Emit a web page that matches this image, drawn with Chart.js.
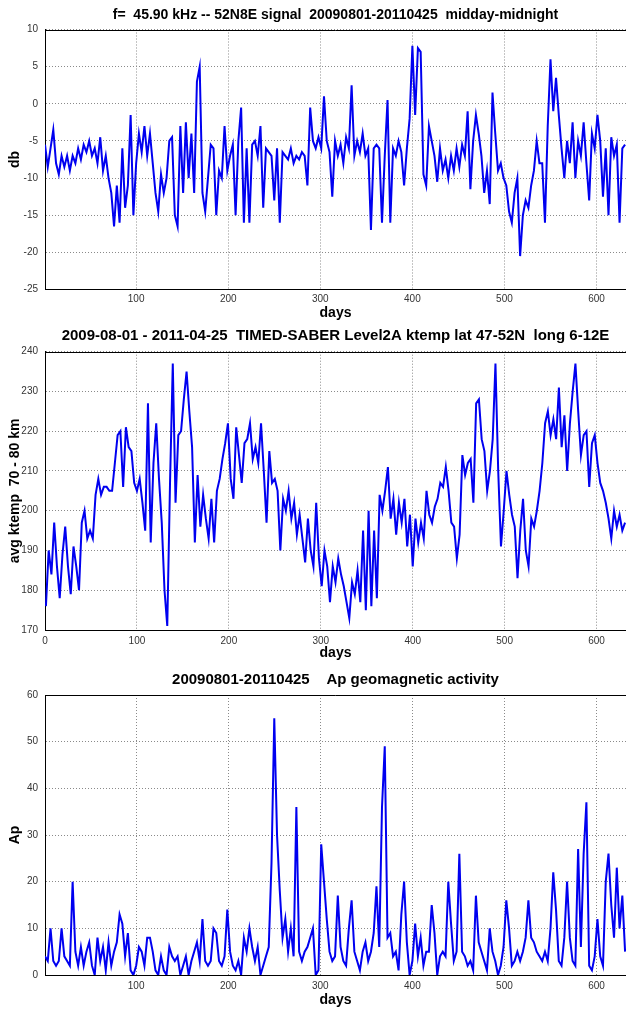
<!DOCTYPE html>
<html><head><meta charset="utf-8">
<script src="https://cdn.jsdelivr.net/npm/chart.js@4"></script>
<style>
html,body{margin:0;padding:0;background:#fff;}
body{width:626px;height:1010px;position:relative;overflow:hidden;}
canvas{position:absolute;left:0;}
</style></head><body>
<canvas id="c1" width="626" height="322" style="top:0px"></canvas>
<canvas id="c2" width="626" height="340" style="top:322px"></canvas>
<canvas id="c3" width="626" height="348" style="top:662px"></canvas>
<script>
// sample days (every 3rd day of the 2009-08-01 .. 2011-04-25 record)
const sampleDays = [];
for (let d = 1; d <= 631; d += 3) sampleDays.push(d);

// panel 1: 45.90 kHz signal, db
const dbValues = [
 -5.5,-8.5,-6,-3.5,-8,-9.5,-7,-8.5,-7,-9,
 -7,-8,-6,-7.5,-5.5,-6.5,-5,-7,-6,-8,
 -4.5,-9,-7,-10,-12,-16.5,-11,-16,-6,-14,
 -11,-1.5,-15,-8,-4,-6.5,-3,-7,-4,-8,
 -12,-14.5,-9.5,-12,-10,-5,-4.5,-15,-16.5,-3,
 -12,-2.5,-10,-4,-12,3,5,-12,-14.5,-10,
 -5.5,-6,-15,-9,-10,-3,-9,-7,-5.5,-15,
 -5,-0.5,-16,-6,-16,-5.5,-5,-7,-3,-14,
 -6,-6.5,-7,-13,-6,-16,-6.5,-7,-7.5,-6,
 -8,-7,-7.5,-6.5,-7,-11,-0.5,-5,-6,-4.5,
 -6,1,-5,-6.5,-12.5,-5,-7,-5.5,-8,-4.5,
 -6,2.5,-7,-5,-6.5,-4,-7,-6,-17,-6,
 -5.5,-6,-16,-7,0.5,-16,-6,-7,-5,-6.5,
 -11,-6,-2,7.8,-1.5,7.5,7,-9.5,-11,-3,
 -5,-7,-10.5,-6,-9,-7.5,-10,-7,-9,-6,
 -8.5,-5.5,-7,-1,-11.5,-5,-1.5,-4,-7,-12,
 -9,-13.5,1.5,-4,-9,-8,-10,-11,-14.5,-16,
 -12,-10,-20.5,-15,-13,-14,-11,-9,-5,-8,
 -8,-16,-3,6,-1,3.5,-1.5,-6,-10,-5,
 -8,-2.5,-10,-5,-7,-2.5,-8,-13,-4,-6,
 -1.5,-5,-12.5,-6,-15,-4.5,-7,-5.5,-16,-6,-5.5
];

// panel 2: TIMED-SABER avg ktemp 70-80 km
const ktempValues = [
 176,190,184,197,186,178,189,196,186,179,
 191,186,180,197,200,193,195,193,204,208,
 204,206,206,205,205,212,219,220,206,221,
 216,215,207,205,208,202,195,227,192,212,
 222,208,197,180,171,207,237,202,219,220,
 228,235,225,216,192,209,196,204,198,193,
 203,192,205,208,213,217,222,208,203,221,
 214,207,217,218,222,213,216,212,222,210,
 197,215,207,208,205,190,203,200,205,198,
 202,194,199,193,187,198,190,186,202,188,
 181,190,186,177,186,182,188,184,181,177,
 173,182,179,185,177,195,175,200,176,195,
 178,204,200,205,211,198,203,194,202,197,
 203,191,199,186,198,192,197,193,205,199,
 197,201,203,207,206,211,205,197,196,188,
 194,214,209,212,213,202,227,228,218,215,
 205,210,218,237,210,191,200,210,204,199,
 196,183,195,203,190,186,198,196,200,205,
 212,222,225,219,223,218,231,216,224,210,
 222,230,237,225,214,219,220,206,217,219,
 212,207,205,202,198,193,200,196,199,195,197
];

// panel 3: Ap geomagnetic activity
const apValues = [
 4,3,10,3,2,3,10,4,3,2,
 20,5,2,6,2,5,7,2,0,8,
 3,6,1,7,2,5,7,13,11,4,
 9,1,0,2,6,5,2,8,8,5,
 1,0,4,1,0,6,4,3,4,0,
 2,4,0,3,5,7,3,12,3,2,
 3,10,9,3,2,4,14,5,2,1,
 3,0,8,5,10,6,3,6,0,2,
 4,6,24,55,30,18,8,12,5,10,
 4,36,5,3,5,6,8,10,0,1,
 28,20,12,5,3,4,17,6,3,2,
 10,16,5,3,1,5,7,3,5,9,
 19,6,36,49,8,9,4,5,1,13,
 20,7,0,3,11,4,8,2,5,5,
 15,9,0,4,5,4,20,11,3,5,
 26,5,4,2,3,1,17,7,5,3,
 1,10,5,3,0,2,6,16,10,2,
 3,5,3,5,8,16,8,7,5,4,
 3,5,3,10,22,14,3,2,8,20,
 8,3,2,27,6,26,37,2,1,4,
 12,4,2,20,26,15,8,23,10,17,5
];

// tick labels
const xTicksNoZero = [100,200,300,400,500,600];
const xTicksZero = [0,100,200,300,400,500,600];
const dbTicks = [-25,-20,-15,-10,-5,0,5,10];
const ktempTicks = [170,180,190,200,210,220,230,240];
const apTicks = [0,10,20,30,40,50,60];

const titles = [
  'f=  45.90 kHz -- 52N8E signal  20090801-20110425  midday-midnight',
  '2009-08-01 - 2011-04-25  TIMED-SABER Level2A ktemp lat 47-52N  long 6-12E',
  '20090801-20110425    Ap geomagnetic activity'
];

Chart.defaults.font.family = "'Liberation Sans', Arial, sans-serif";

const framePlugin = {
  id: 'frame',
  afterDatasetsDraw(chart) {
    const {ctx, chartArea: a} = chart;
    ctx.save();
    ctx.strokeStyle = '#000';
    ctx.lineWidth = 1;
    ctx.beginPath();
    ctx.moveTo(Math.round(a.left) + 0.5, Math.round(a.top) + 0.5);
    ctx.lineTo(Math.round(a.right), Math.round(a.top) + 0.5);
    ctx.stroke();
    ctx.restore();
  }
};

function makeChart(id, o) {
  return new Chart(document.getElementById(id), {
    type: 'line',
    data: {
      datasets: [{
        data: sampleDays.map((d, i) => ({x: d, y: o.vals[i]})),
        borderColor: '#0000f0', borderWidth: 2, pointRadius: 0, tension: 0, fill: false
      }]
    },
    plugins: [framePlugin],
    options: {
      responsive: false, animation: false, events: [],
      layout: {padding: 0},
      plugins: {
        legend: {display: false}, tooltip: {enabled: false},
        title: {display: true, text: o.title, fullSize: false, color: '#000',
                font: {size: o.titleSize, weight: 'bold'}, padding: {top: o.tTop, bottom: o.tBot}}
      },
      scales: {
        x: {
          type: 'linear', min: o.xmin, max: 632,
          afterBuildTicks: s => { s.ticks = o.xTicks.map(v => ({value: v})); },
          afterFit: s => { s.height = o.xH; },
          ticks: {color: '#333', font: {size: 10}, padding: o.xPad, maxRotation: 0, autoSkip: false},
          grid: {color: '#8a8a8a', drawTicks: false, lineWidth: 1},
          border: {display: true, color: '#000', width: 1, dash: [1, 2]},
          title: {display: true, text: 'days', color: '#000', font: {size: 14, weight: 'bold'}, padding: {top: 0, bottom: o.xtPad}}
        },
        y: {
          min: o.ymin, max: o.ymax,
          afterBuildTicks: s => { s.ticks = o.yTicks.map(v => ({value: v})); },
          afterFit: s => { s.width = 45; },
          ticks: {color: '#333', font: {size: 10}, padding: 7, autoSkip: false},
          grid: {color: '#8a8a8a', drawTicks: false, lineWidth: 1},
          border: {display: true, color: '#000', width: 1, dash: [1, 2]},
          title: {display: true, text: o.yTitle, color: '#000', font: {size: 14, weight: 'bold'}, padding: {top: 7, bottom: 0}}
        }
      }
    }
  });
}

makeChart('c1', {vals: dbValues, title: titles[0], titleSize: 14, tTop: 6.6, tBot: 6.1,
  xmin: 1, xTicks: xTicksNoZero, xH: 32.5, xPad: 3.3, xtPad: 0.6,
  ymin: -25, ymax: 10, yTicks: dbTicks, yTitle: 'db'});
makeChart('c2', {vals: ktempValues, title: titles[1], titleSize: 15, tTop: 5, tBot: 6.7,
  xmin: 0, xTicks: xTicksZero, xH: 32, xPad: 5.5, xtPad: 0.3,
  ymin: 170, ymax: 240, yTicks: ktempTicks, yTitle: 'avg ktemp  70 - 80 km'});
makeChart('c3', {vals: apValues, title: titles[2], titleSize: 15, tTop: 9, tBot: 6,
  xmin: 1, xTicks: xTicksNoZero, xH: 35, xPad: 5.5, xtPad: 1.6,
  ymin: 0, ymax: 60, yTicks: apTicks, yTitle: 'Ap'});
</script>
</body></html>
